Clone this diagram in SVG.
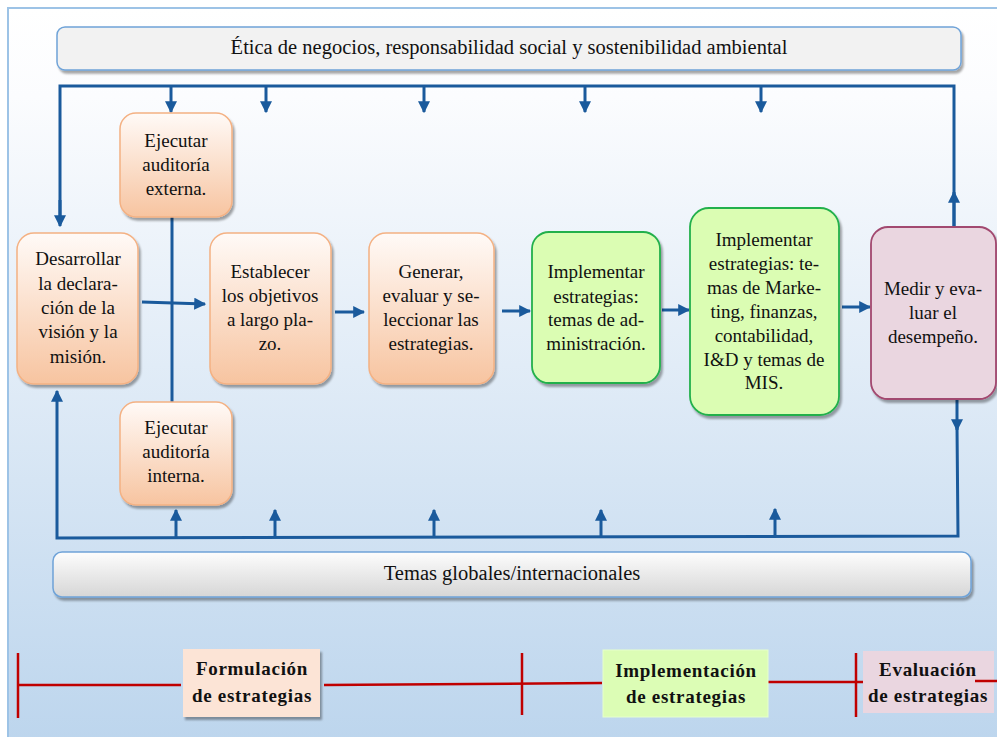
<svg xmlns="http://www.w3.org/2000/svg" width="997" height="737" viewBox="0 0 997 737">
<defs>
<linearGradient id="bg" x1="0" y1="0" x2="0" y2="1">
<stop offset="0" stop-color="#ffffff"/>
<stop offset="0.12" stop-color="#fbfcfe"/>
<stop offset="1" stop-color="#bcd5ed"/>
</linearGradient>
<linearGradient id="peach" x1="0" y1="0" x2="0" y2="1">
<stop offset="0" stop-color="#fffaf7"/>
<stop offset="1" stop-color="#f7c4a0"/>
</linearGradient>
<linearGradient id="gray" x1="0" y1="0" x2="0" y2="1">
<stop offset="0" stop-color="#fdfdfd"/>
<stop offset="1" stop-color="#d6d6d6"/>
</linearGradient>
<filter id="sh" x="-10%" y="-10%" width="130%" height="130%">
<feDropShadow dx="2" dy="3" stdDeviation="1.2" flood-color="#000" flood-opacity="0.35"/>
</filter>
<marker id="ah" viewBox="0 0 10 10" refX="9" refY="5" markerWidth="4" markerHeight="4" orient="auto" markerUnits="strokeWidth">
<path d="M0,0 L10,5 L0,10 z" fill="#1a5a9c"/>
</marker>
<style>
text{font-family:"Liberation Serif","Times New Roman",serif;fill:#111;text-anchor:middle}
.t{font-size:19px}
.tb{font-size:20.5px}
.b{font-size:19px;font-weight:bold;letter-spacing:0.7px}
.pe{fill:url(#peach);stroke:#f4b183;stroke-width:1.5;filter:url(#sh)}
.gr{fill:#dbfdb3;stroke:#22b04c;stroke-width:1.8;filter:url(#sh)}
.pk{fill:#ead6e0;stroke:#a2486f;stroke-width:1.8;filter:url(#sh)}
.bar{stroke:#6fa3d8;stroke-width:1.5;filter:url(#sh)}
.c{fill:none;stroke:#1a5a9c;stroke-width:3}
.r{fill:none;stroke:#c00000;stroke-width:2.5}
</style>
</defs>
<rect x="8" y="8" width="1000" height="740" fill="url(#bg)" stroke="#9dc3e6" stroke-width="2"/>

<g id="top-bar">
<rect class="bar" x="57" y="27" width="904" height="43" rx="8" fill="#f2f2f2"/>
<text class="tb" x="509" y="54">Ética de negocios, responsabilidad social y sostenibilidad ambiental</text>
</g>
<g id="bottom-bar">
<rect class="bar" x="53" y="552" width="918" height="45" rx="9" fill="url(#gray)"/>
<text class="tb" x="512" y="580">Temas globales/internacionales</text>
</g>

<g id="connectors">
<polyline class="c" points="60,224 60,86 954,86 954,226"/>
<line class="c" x1="60" y1="200" x2="60" y2="226" marker-end="url(#ah)"/>
<line class="c" x1="954" y1="226" x2="954" y2="192" marker-end="url(#ah)"/>
<line class="c" x1="171" y1="86" x2="171" y2="112" marker-end="url(#ah)"/>
<line class="c" x1="266" y1="86" x2="266" y2="112" marker-end="url(#ah)"/>
<line class="c" x1="424" y1="86" x2="424" y2="112" marker-end="url(#ah)"/>
<line class="c" x1="585" y1="86" x2="585" y2="112" marker-end="url(#ah)"/>
<line class="c" x1="761" y1="86" x2="761" y2="112" marker-end="url(#ah)"/>
<line class="c" x1="172" y1="217" x2="172" y2="402"/>
<line class="c" x1="142" y1="302" x2="205" y2="304" marker-end="url(#ah)"/>
<line class="c" x1="335" y1="312" x2="364" y2="312" marker-end="url(#ah)"/>
<line class="c" x1="502" y1="311" x2="530" y2="311" marker-end="url(#ah)"/>
<line class="c" x1="662" y1="310" x2="689" y2="310" marker-end="url(#ah)"/>
<line class="c" x1="842" y1="307" x2="870" y2="307" marker-end="url(#ah)"/>
<line class="c" x1="957" y1="399" x2="957" y2="430" marker-end="url(#ah)"/>
<polyline class="c" points="957,426 958,536 57,538 57,391" marker-end="url(#ah)"/>
<line class="c" x1="176" y1="538" x2="176" y2="510" marker-end="url(#ah)"/>
<line class="c" x1="275" y1="538" x2="275" y2="510" marker-end="url(#ah)"/>
<line class="c" x1="434" y1="537" x2="434" y2="510" marker-end="url(#ah)"/>
<line class="c" x1="601" y1="537" x2="601" y2="510" marker-end="url(#ah)"/>
<line class="c" x1="775" y1="536" x2="775" y2="509" marker-end="url(#ah)"/>
</g>

<g id="externa">
<rect class="pe" x="120" y="113" width="112" height="104" rx="16"/>
<text class="t" x="176" y="147">Ejecutar</text>
<text class="t" x="176" y="171">auditoría</text>
<text class="t" x="176" y="195">externa.</text>
</g>
<g id="desarrollar">
<rect class="pe" x="17" y="233" width="121" height="151" rx="17"/>
<text class="t" x="78" y="265">Desarrollar</text>
<text class="t" x="78" y="290">la declara-</text>
<text class="t" x="78" y="314">ción de la</text>
<text class="t" x="78" y="338">visión y la</text>
<text class="t" x="78" y="363">misión.</text>
</g>
<g id="establecer">
<rect class="pe" x="210" y="233" width="121" height="151" rx="17"/>
<text class="t" x="270" y="278">Establecer</text>
<text class="t" x="270" y="302">los objetivos</text>
<text class="t" x="270" y="326">a largo pla-</text>
<text class="t" x="270" y="350">zo.</text>
</g>
<g id="generar">
<rect class="pe" x="369" y="233" width="125" height="151" rx="17"/>
<text class="t" x="431" y="278">Generar,</text>
<text class="t" x="431" y="302">evaluar y se-</text>
<text class="t" x="431" y="326">leccionar las</text>
<text class="t" x="431" y="350">estrategias.</text>
</g>
<g id="interna">
<rect class="pe" x="120" y="402" width="112" height="103" rx="16"/>
<text class="t" x="176" y="434">Ejecutar</text>
<text class="t" x="176" y="458">auditoría</text>
<text class="t" x="176" y="482">interna.</text>
</g>
<g id="impl-adm">
<rect class="gr" x="532" y="232" width="128" height="151" rx="17"/>
<text class="t" x="596" y="278">Implementar</text>
<text class="t" x="596" y="303">estrategias:</text>
<text class="t" x="596" y="326">temas de ad-</text>
<text class="t" x="596" y="350">ministración.</text>
</g>
<g id="impl-mkt">
<rect class="gr" x="690" y="208" width="149" height="207" rx="19"/>
<text class="t" x="764" y="246">Implementar</text>
<text class="t" x="764" y="270">estrategias: te-</text>
<text class="t" x="764" y="294">mas de Marke-</text>
<text class="t" x="764" y="318">ting, finanzas,</text>
<text class="t" x="764" y="342">contabilidad,</text>
<text class="t" x="764" y="366">I&amp;D y temas de</text>
<text class="t" x="764" y="389">MIS.</text>
</g>
<g id="medir">
<rect class="pk" x="871" y="227" width="125" height="172" rx="17"/>
<text class="t" x="933" y="295">Medir y eva-</text>
<text class="t" x="933" y="319">luar el</text>
<text class="t" x="933" y="343">desempeño.</text>
</g>

<g id="timeline">
<line class="r" x1="18" y1="653" x2="18" y2="718"/>
<line class="r" x1="18" y1="685" x2="181" y2="685"/>
<line class="r" x1="324" y1="685" x2="602" y2="683"/>
<line class="r" x1="522" y1="653" x2="522" y2="715"/>
<line class="r" x1="768" y1="682" x2="870" y2="682"/>
<line class="r" x1="856" y1="653" x2="856" y2="717"/>
</g>
<g id="formulacion">
<rect x="183" y="649" width="137" height="68" fill="#fce4d6" filter="url(#sh)"/>
<text class="b" x="252" y="675">Formulación</text>
<text class="b" x="252" y="702">de estrategias</text>
</g>
<g id="implementacion">
<rect x="603" y="650" width="165" height="67" fill="#dcfdb5" stroke="#e6ffcc" stroke-width="1"/>
<text class="b" x="686" y="677">Implementación</text>
<text class="b" x="686" y="703">de estrategias</text>
</g>
<g id="evaluacion">
<rect x="863" y="651" width="131" height="62" fill="#ead6e0"/>
<line class="r" x1="975" y1="681" x2="997" y2="681"/>
<text class="b" x="928" y="676">Evaluación</text>
<text class="b" x="928" y="702">de estrategias</text>
</g>
</svg>
